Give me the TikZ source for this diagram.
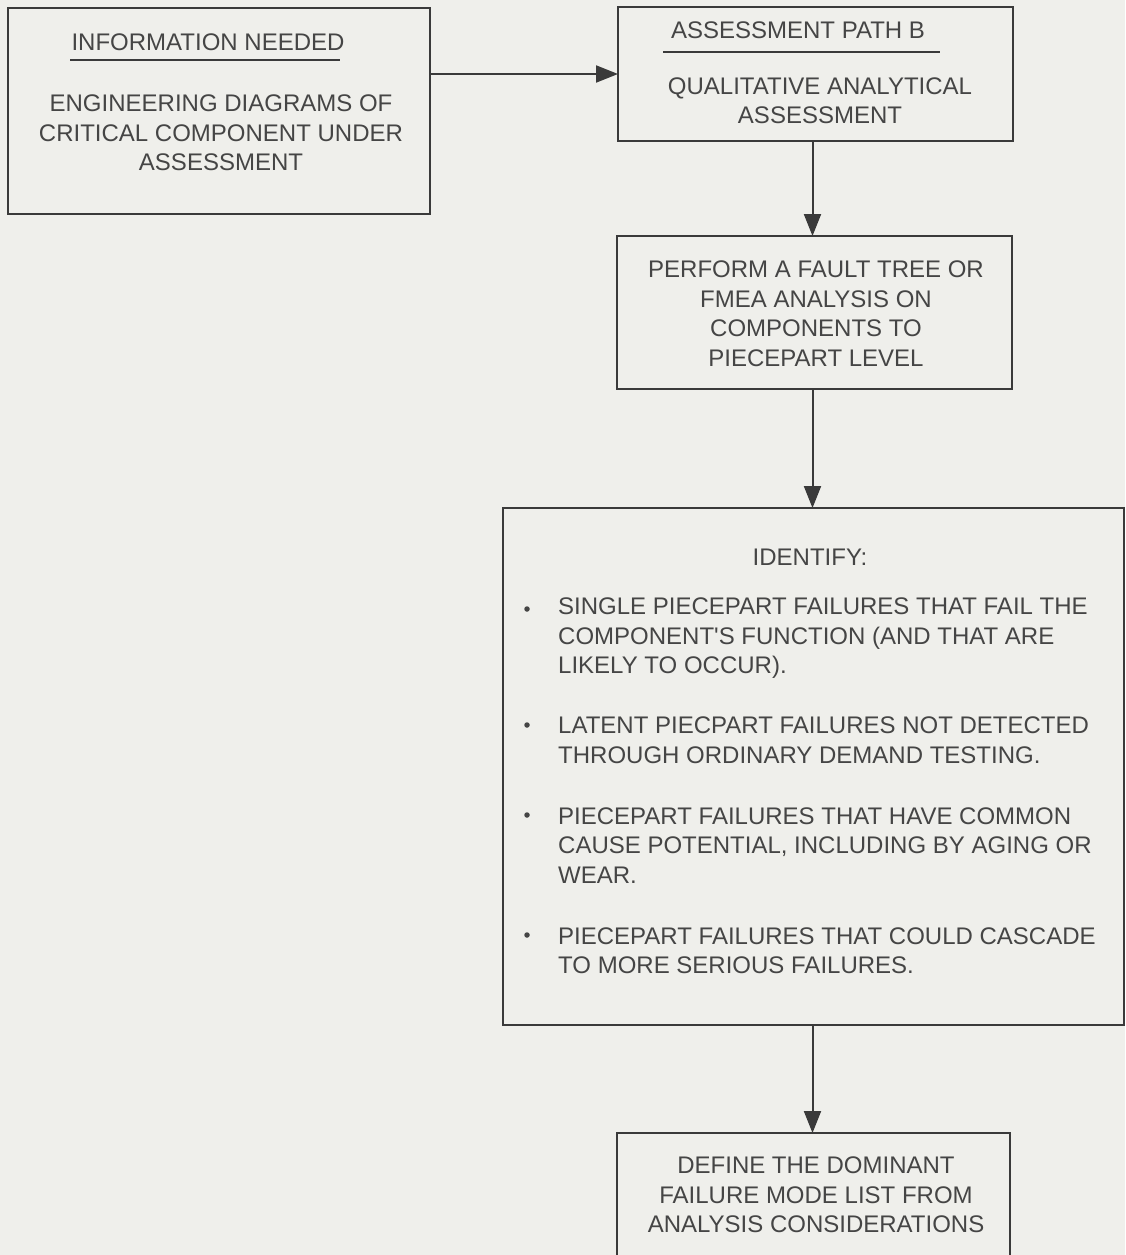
\documentclass[tikz,border=0pt]{standalone}
\usepackage{fontspec}
\setmainfont{Liberation Sans}
\usetikzlibrary{arrows.meta}
\definecolor{bg}{HTML}{EFEFEB}
\definecolor{ink}{HTML}{454545}
\definecolor{edge}{HTML}{3A3A3A}
\tikzset{
  box/.style={draw=edge, line width=2.4pt, inner sep=0pt, outer sep=0pt},
  txt/.style={text=ink, font=\fontsize{24}{29.5}\selectfont, align=center, inner sep=0pt},
  ltxt/.style={text=ink, font=\fontsize{24}{29.5}\selectfont, align=left, inner sep=0pt, anchor=west},
  uline/.style={draw=edge, line width=1.6pt},
  conn/.style={draw=edge, line width=2pt, -{Triangle[length=22pt,width=17pt]}},
  dot/.style={circle, fill=ink, inner sep=0pt, minimum size=5.5pt},
}
\begin{document}
\begin{tikzpicture}[x=1pt,y=-1pt]
\fill[bg] (0,0) rectangle (1125,1255);
\clip (0,0) rectangle (1125,1255);

% boxes
\node[box, minimum width=422pt, minimum height=206pt] (info) at (219,111) {};
\node[box, minimum width=395pt, minimum height=134pt] (pathb) at (815.5,74) {};
\node[box, minimum width=395pt, minimum height=153pt] (fta) at (814.5,312.5) {};
\node[box, minimum width=621pt, minimum height=517pt] (ident) at (813.5,766.5) {};
\node[box, minimum width=393pt, minimum height=142pt] (define) at (813.5,1204) {};

% texts box 1
\node[txt] (t1title) at (208,42) {INFORMATION NEEDED};
\draw[uline] (70,60) -- (340,60);
\node[txt] (t1body) at (221,133) {ENGINEERING DIAGRAMS OF\\CRITICAL COMPONENT UNDER\\ASSESSMENT};

% texts box 2
\node[txt] (t2title) at (798,30) {ASSESSMENT PATH B};
\draw[uline] (663,52) -- (940,52);
\node[txt] (t2body) at (820,100.5) {QUALITATIVE ANALYTICAL\\ASSESSMENT};

% text box 3
\node[txt] (t3) at (816,313.5) {PERFORM A FAULT TREE OR\\FMEA ANALYSIS ON\\COMPONENTS TO\\PIECEPART LEVEL};

% text box 4
\node[txt] (t4title) at (810,557) {IDENTIFY:};
\node[dot] (b1) at (527,609) {};
\node[dot] (b2) at (527,725) {};
\node[dot] (b3) at (527,815) {};
\node[dot] (b4) at (527,935) {};
\node[ltxt] (i1) at (558,638.5) {SINGLE PIECEPART FAILURES THAT FAIL THE\\COMPONENT\textquotesingle S FUNCTION (AND THAT ARE\\LIKELY TO OCCUR).};
\node[ltxt] (i2) at (558,740) {LATENT PIECPART FAILURES NOT DETECTED\\THROUGH ORDINARY DEMAND TESTING.};
\node[ltxt] (i3) at (558,845.5) {PIECEPART FAILURES THAT HAVE COMMON\\CAUSE POTENTIAL, INCLUDING BY AGING OR\\WEAR.};
\node[ltxt] (i4) at (558,950.5) {PIECEPART FAILURES THAT COULD CASCADE\\TO MORE SERIOUS FAILURES.};

% text box 5
\node[txt] (t5) at (816,1195) {DEFINE THE DOMINANT\\FAILURE MODE LIST FROM\\ANALYSIS CONSIDERATIONS};

% connectors
\draw[conn] (info.east |- pathb.west) -- (pathb.west);
\draw[conn] ([xshift=-3pt]pathb.south) -- ([xshift=-2pt]fta.north);
\draw[conn] ([xshift=-2pt]fta.south) -- ([xshift=-1pt]ident.north);
\draw[conn] ([xshift=-1pt]ident.south) -- ([xshift=-1pt]define.north);
\end{tikzpicture}
\end{document}
